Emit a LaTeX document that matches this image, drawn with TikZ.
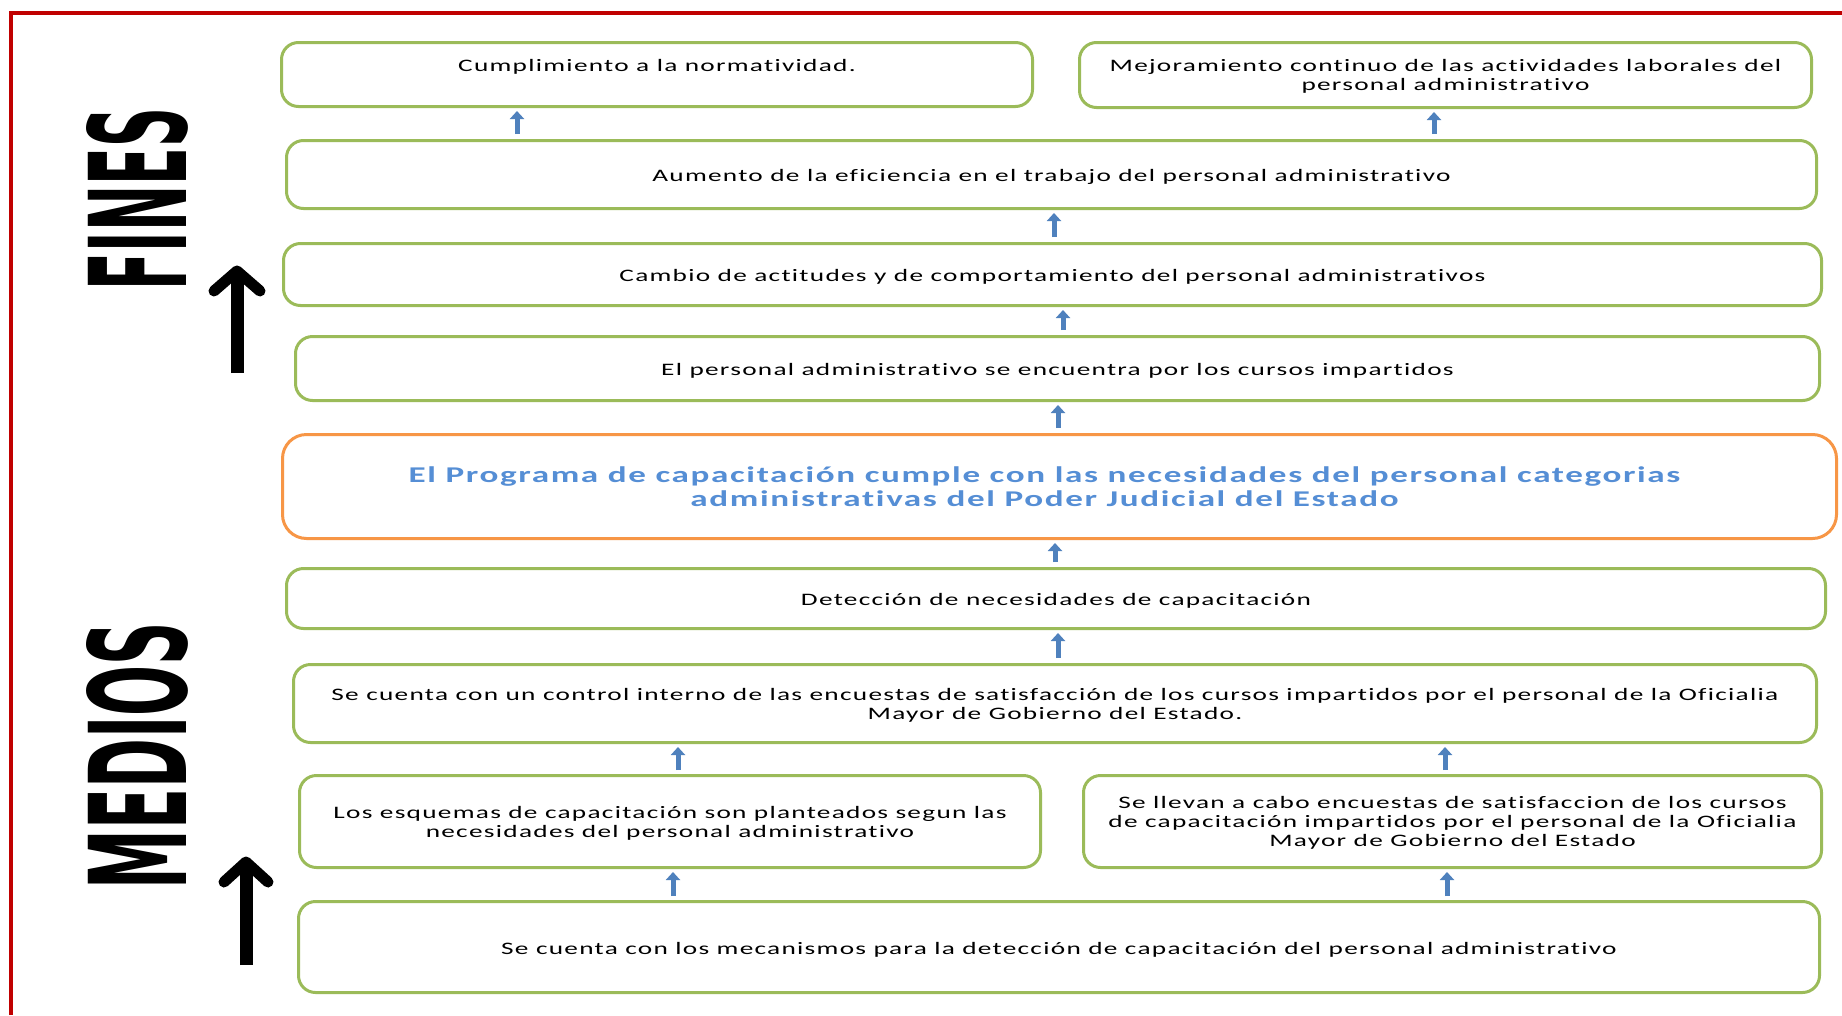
\documentclass[tikz,border=0pt]{standalone}
\usepackage{graphicx}
\usepackage{fontspec}
\setmainfont{Carlito}[FakeStretch=1.56, LetterSpace=7.3, Ligatures={NoCommon,NoRequired,NoContextual}]
\newfontfamily\headfont{DejaVu Sans}
\usetikzlibrary{arrows.meta,calc}

\definecolor{framered}{HTML}{C00000}
\definecolor{boxgreen}{HTML}{9BBB59}
\definecolor{boxorange}{HTML}{F79646}
\definecolor{arrowblue}{HTML}{4F81BD}
\definecolor{progblue}{HTML}{558ED5}

\tikzset{
  gbox/.style={rectangle, rounded corners=17pt, draw=boxgreen, line width=3pt,
    align=center, inner sep=0pt, text=black,
    font=\fontsize{17.5}{19}\selectfont},
  obox/.style={rectangle, rounded corners=24pt, draw=boxorange, line width=3pt,
    align=center, inner sep=0pt, text=progblue, text depth=-2pt,
    font=\bfseries\fontsize{22.5}{24.5}\selectfont},
  oneline/.style={text height=17pt},
  multiline/.style={text depth=-1pt},
  uparrow/.style={draw=arrowblue, line width=5pt, -{Triangle[width=14pt,length=8pt]}},
  bigshaft/.style={line width=13pt, black},
  bighead/.style={line width=11pt, black, line cap=round, line join=round},
  sidetitle/.style={rotate=90, inner sep=0pt, text=black}
}

\begin{document}
\begin{tikzpicture}[x=1pt, y=-1pt]
\useasboundingbox (0,0) rectangle (1842,1015);
\fill[white] (0,0) rectangle (1842,1015);

% frame along the top and left edges
\draw[framered, line width=4pt] (10.5,1015) -- (10.5,13) -- (1842,13);

% side titles
\node[sidetitle] (fines) at (137,199) {\resizebox{182pt}{100pt}{\headfont\bfseries FINES}};
\node[sidetitle] (medios) at (137,755.5) {\resizebox{267pt}{100pt}{\headfont\bfseries MEDIOS}};

% big upward arrows beside the titles
\coordinate (fbase) at (237,373);
\coordinate (fneck) at (237,278);
\coordinate (fleft) at (214,291);
\coordinate (ftip) at (237,271);
\coordinate (fright) at (260,291);
\draw[bigshaft] (fbase) -- (fneck);
\draw[bighead] (fleft) -- (ftip) -- (fright);

\coordinate (mbase) at (246,965);
\coordinate (mneck) at (246,869);
\coordinate (mleft) at (224,882);
\coordinate (mtip) at (246,862);
\coordinate (mright) at (268,882);
\draw[bigshaft] (mbase) -- (mneck);
\draw[bighead] (mleft) -- (mtip) -- (mright);

% boxes
\node[gbox, text depth=-5pt, minimum width=751pt, minimum height=64pt] (b1) at (657,74.5)
  {Cumplimiento a la normatividad.\\\mbox{}};
\node[gbox, multiline, minimum width=732pt, minimum height=65pt] (b2) at (1445.5,75)
  {Mejoramiento continuo de las actividades laborales del\\personal administrativo};
\node[gbox, oneline, minimum width=1530pt, minimum height=68pt] (b3) at (1051.5,174.5)
  {Aumento de la eficiencia en el trabajo del personal administrativo};
\node[gbox, oneline, minimum width=1538pt, minimum height=62pt] (b4) at (1052.5,274.5)
  {Cambio de actitudes y de comportamiento del personal administrativos};
\node[gbox, oneline, minimum width=1524pt, minimum height=64pt] (b5) at (1057.5,368.5)
  {El personal administrativo se encuentra por los cursos impartidos};
\node[obox, minimum width=1554pt, minimum height=104pt] (b6) at (1059.5,486.5)
  {El Programa de capacitación cumple con las necesidades del personal categorias\hspace*{30pt}\\administrativas del Poder Judicial del Estado\hspace*{30pt}};
\node[gbox, oneline, minimum width=1539pt, minimum height=60pt] (b7) at (1056,598.5)
  {Detección de necesidades de capacitación};
\node[gbox, multiline, minimum width=1523pt, minimum height=78pt] (b8) at (1055,703.5)
  {Se cuenta con un control interno de las encuestas de satisfacción de los cursos impartidos por el personal de la Oficialia\\Mayor de Gobierno del Estado.};
\node[gbox, multiline, minimum width=741pt, minimum height=92pt] (b9) at (670,821.5)
  {Los esquemas de capacitación son planteados segun las\\necesidades del personal administrativo};
\node[gbox, multiline, minimum width=738pt, minimum height=92pt] (b10) at (1452.5,821.5)
  {Se llevan a cabo encuestas de satisfaccion de los cursos\\de capacitación impartidos por el personal de la Oficialia\\Mayor de Gobierno del Estado};
\node[gbox, oneline, minimum width=1521pt, minimum height=91pt] (b11) at (1059,947)
  {Se cuenta con los mecanismos para la detección de capacitación del personal administrativo};

% arrow columns
\coordinate (x1) at (517,0);
\coordinate (x2) at (1434,0);
\coordinate (x3) at (1054,0);
\coordinate (x4) at (1063,0);
\coordinate (x5) at (1058,0);
\coordinate (x6) at (1055,0);
\coordinate (x7) at (1058,0);
\coordinate (x8) at (678,0);
\coordinate (x9) at (1445,0);
\coordinate (x10) at (673,0);
\coordinate (x11) at (1447,0);

% connectors
\draw[uparrow] ($(b3.north -| x1)+(0,-5)$) -- ($(b1.south -| x1)+(0,3)$);
\draw[uparrow] ($(b3.north -| x2)+(0,-5)$) -- ($(b2.south -| x2)+(0,3)$);
\draw[uparrow] ($(b4.north -| x3)+(0,-5)$) -- ($(b3.south -| x3)+(0,3)$);
\draw[uparrow] ($(b5.north -| x4)+(0,-5)$) -- ($(b4.south -| x4)+(0,3)$);
\draw[uparrow] ($(b6.north -| x5)+(0,-5)$) -- ($(b5.south -| x5)+(0,3)$);
\draw[uparrow] ($(b7.north -| x6)+(0,-5)$) -- ($(b6.south -| x6)+(0,3)$);
\draw[uparrow] ($(b8.north -| x7)+(0,-5)$) -- ($(b7.south -| x7)+(0,3)$);
\draw[uparrow] ($(b9.north -| x8)+(0,-4)$) -- ($(b8.south -| x8)+(0,3)$);
\draw[uparrow] ($(b10.north -| x9)+(0,-4)$) -- ($(b8.south -| x9)+(0,3)$);
\draw[uparrow] ($(b11.north -| x10)+(0,-4)$) -- ($(b9.south -| x10)+(0,3)$);
\draw[uparrow] ($(b11.north -| x11)+(0,-4)$) -- ($(b10.south -| x11)+(0,3)$);
\end{tikzpicture}
\end{document}
